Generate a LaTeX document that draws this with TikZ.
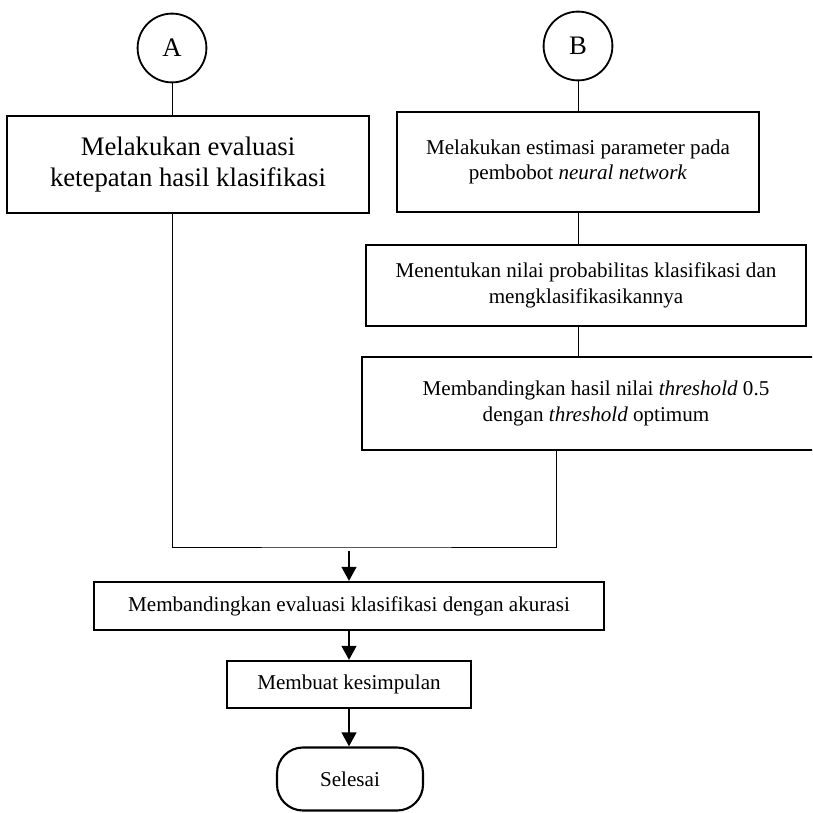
\documentclass[tikz,border=0pt]{standalone}
\usepackage{fontspec}
\setmainfont{Liberation Serif}
\usetikzlibrary{shapes,arrows.meta,positioning}

\begin{document}
\begin{tikzpicture}[x=0.025cm,y=-0.025cm,
    font=\fontsize{15}{18}\selectfont,
    box/.style={draw,line width=1.5pt,align=center,inner sep=0pt},
    circ/.style={draw,circle,line width=1.3pt,inner sep=0pt,minimum size=1.72cm,font=\fontsize{19}{22}\selectfont},
    link/.style={line width=0.7pt},
    flow/.style={line width=2pt,-{Triangle[length=0.35cm,width=0.36cm]}}
]

\useasboundingbox (0,0) rectangle (812,813);
\clip (0,0) rectangle (812,813);

\node[circ] (startA) at (172,48) {A};
\node[circ] (startB) at (578,46) {B};

\node[box,
    minimum width=9.05cm,
    minimum height=2.425cm,
    font=\fontsize{19}{22}\selectfont
] (blockA) at (188,164.5) {Melakukan evaluasi\\ketepatan hasil klasifikasi};

\node[box,
    minimum width=9.05cm,
    minimum height=2.5cm
] (blockB1) at (578,162) {Melakukan estimasi parameter pada\\pembobot \textit{neural network}};

\node[box,
    minimum width=11cm,
    minimum height=2.025cm
] (blockB2) at (586,285.5) {Menentukan nilai probabilitas klasifikasi dan\\mengklasifikasikannya};

\node[box,
    minimum width=11.7cm,
    minimum height=2.325cm
] (blockB3) at (596,403.5) {Membandingkan hasil nilai \textit{threshold} 0.5\\dengan \textit{threshold} optimum};

\node[box,
    minimum width=12.75cm,
    minimum height=1.2cm
] (blockC) at (349,606) {Membandingkan evaluasi klasifikasi dengan akurasi};

\node[box,
    minimum width=6.1cm,
    minimum height=1.175cm
] (blockD) at (349,684.5) {Membuat kesimpulan};

\node[box,
    rounded corners=0.65cm,
    minimum width=3.65cm,
    minimum height=1.575cm
] (blockEnd) at (350,779) {Selesai};

\coordinate (merge) at (349,547);
\coordinate (flowtop) at (349,551);
\coordinate (foot) at (556,0);

\draw[link] (startA) -- (startA |- blockA.north);
\draw[link] (startB) -- (startB |- blockB1.north);
\draw[link] (blockB1.south) -- (blockB1.south |- blockB2.north);
\draw[link] (blockB1.south |- blockB2.south) -- (blockB1.south |- blockB3.north);

\draw[link] (blockA.south -| startA) |- (merge) -| (blockB3.south -| foot);

\draw[flow] (flowtop) -- (blockC);
\draw[flow] (blockC) -- (blockD);
\draw[flow] (blockD) -- (blockEnd.north -| blockD.south);

\end{tikzpicture}
\end{document}
